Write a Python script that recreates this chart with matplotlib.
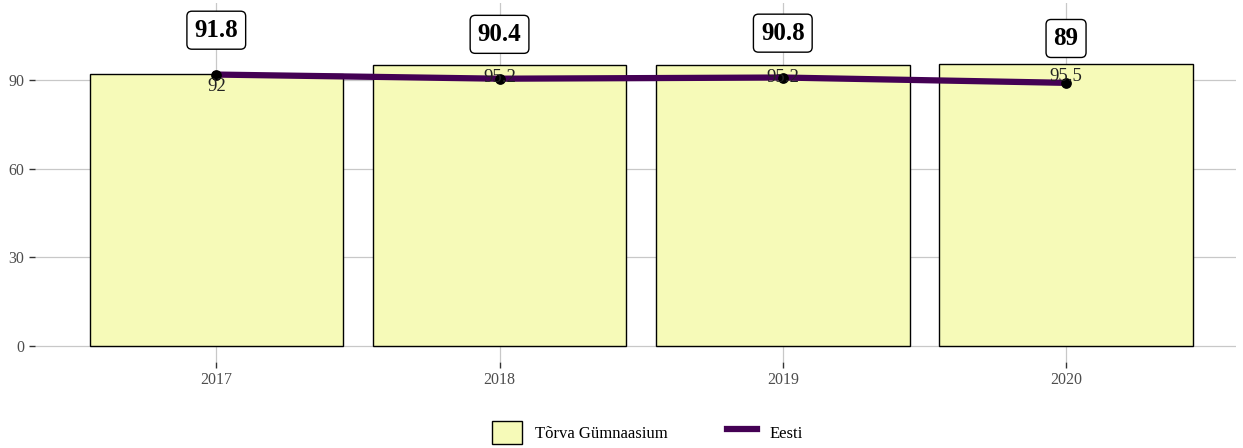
import matplotlib.pyplot as plt
from matplotlib.patches import Patch
from matplotlib.lines import Line2D

years = ["2017", "2018", "2019", "2020"]
school = [92, 95.2, 95.2, 95.5]
eesti = [91.8, 90.4, 90.8, 89]
school_labels = ["92", "95.2", "95.2", "95.5"]
eesti_labels = ["91.8", "90.4", "90.8", "89"]

bar_color = "#F6FAB8"
line_color = "#440154"

plt.rcParams["font.family"] = ["Liberation Serif", "DejaVu Serif"]

fig = plt.figure(figsize=(12.43, 4.48), dpi=100)
ax = fig.add_axes([35 / 1243, 86 / 448, 1201 / 1243, 359 / 448])

x = range(len(years))
ax.bar(x, school, width=0.895, color=bar_color, edgecolor="black", linewidth=1, zorder=2)
ax.plot(x, eesti, color=line_color, linewidth=4.5, zorder=3)
ax.scatter(x, eesti, color="black", s=45, zorder=4)

for i in x:
    ax.annotate(school_labels[i], (i, school[i]), xytext=(0, -3), textcoords="offset points",
                ha="center", va="top", fontsize=13.5, color="#222222", zorder=5)
    ax.text(i, eesti[i] + 15, eesti_labels[i], ha="center", va="center", fontsize=18,
            fontweight="bold", zorder=5,
            bbox=dict(boxstyle="round,pad=0.3,rounding_size=0.2", facecolor="white",
                      edgecolor="black", linewidth=1))

ax.set_xlim(-0.64, 3.6)
ax.set_ylim(-5.4, 116)
ax.set_xticks(list(x))
ax.set_xticklabels(years)
ax.set_yticks([0, 30, 60, 90])
ax.tick_params(colors="#333333", labelcolor="#4D4D4D", labelsize=11.5, length=4, width=1)
ax.grid(True, color="#C8C8C8", linewidth=0.9, zorder=0)
ax.set_axisbelow(True)
for s in ax.spines.values():
    s.set_visible(False)

handles = [Patch(facecolor=bar_color, edgecolor="black", label="Tõrva Gümnaasium"),
           Line2D([0], [0], color=line_color, linewidth=4.5, label="Eesti")]
fig.legend(handles=handles, loc="center", bbox_to_anchor=(0.521, 0.035), ncol=2,
           frameon=False, fontsize=12, handlelength=1.8, handleheight=1.8,
           columnspacing=3.5)

fig.savefig("out.png", dpi=100)
